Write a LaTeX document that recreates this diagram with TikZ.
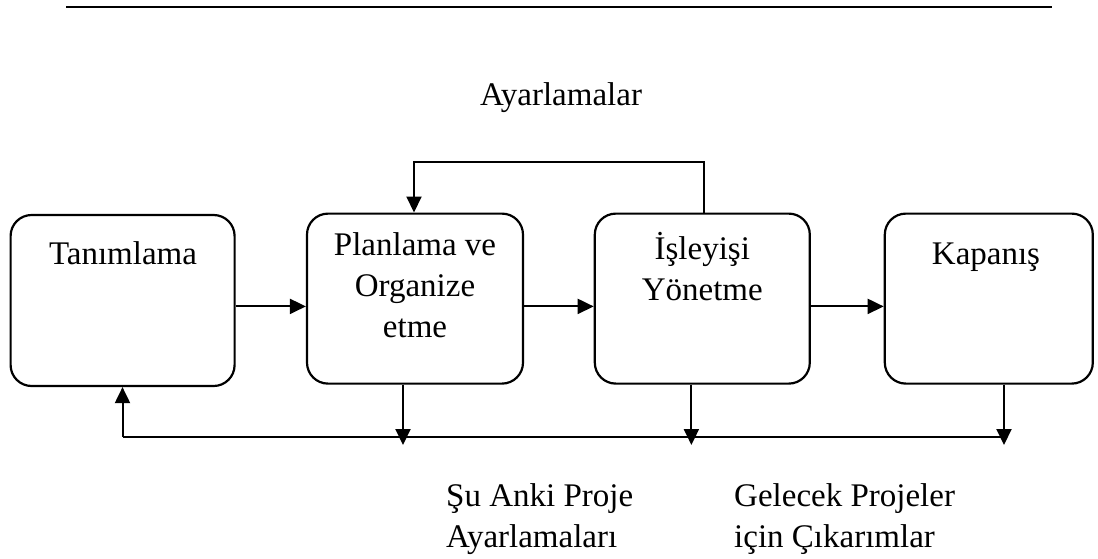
\documentclass[tikz,border=0pt]{standalone}
\usepackage{fontspec}
\setmainfont{Liberation Serif}
\usetikzlibrary{arrows.meta}
\begin{document}
\begin{tikzpicture}[x=1pt,y=-1pt,
  box/.style={draw,line width=2.2pt,rounded corners=21pt,inner sep=0pt},
  lbl/.style={anchor=base,align=center,font=\fontsize{33}{41}\selectfont,inner sep=0pt},
  arr/.style={line width=2pt,-{Triangle[length=16pt,width=15pt]}},
  ln/.style={line width=2pt}]
\useasboundingbox (0,0) rectangle (1098,558);
\draw[line width=2.8pt] (66,7) -- (1052,7);
\node[lbl] (adj) at (561,105) {Ayarlamalar};
\node[box,minimum width=224pt,minimum height=171pt] (b1) at (122.6,300.5) {};
\node[box,minimum width=216pt,minimum height=170pt] (b2) at (415,298.6) {};
\node[box,minimum width=215pt,minimum height=170pt] (b3) at (702.3,298.6) {};
\node[box,minimum width=208pt,minimum height=170pt] (b4) at (988.8,298.6) {};
\node[lbl] (t1) at (123,264) {Tanımlama};
\node[lbl,anchor=north] (t2) at (415,232) {Planlama ve\\Organize\\etme};
\node[lbl,anchor=north] (t3) at (702.3,232) {İşleyişi\\Yönetme};
\node[lbl] (t4) at (986,264) {Kapanış};
\draw[arr] (b1.east |- 0,306.4) -- (b2.west |- 0,306.4);
\draw[arr] (b2.east |- 0,306.4) -- (b3.west |- 0,306.4);
\draw[arr] (b3.east |- 0,306.4) -- (b4.west |- 0,306.4);
\coordinate (f1) at (703.6,162);
\coordinate (f2) at (414,162);
\draw[arr] (b3.north -| f1) -- (f1) -- (f2) -- (b2.north -| f2);
\coordinate (l1) at (122.5,437);
\coordinate (l2) at (1004,437);
\draw[ln] (l1) -- (l2);
\draw[arr] (l1) -- (b1.south -| l1);
\coordinate (d2) at (403,445);
\coordinate (d3) at (691.4,445);
\coordinate (d4) at (1004,445);
\draw[arr] (b2.south -| d2) -- (d2);
\draw[arr] (b3.south -| d3) -- (d3);
\draw[arr] (b4.south -| d4) -- (d4);
\node[lbl,anchor=base west,align=left] (n1) at (446,547) {Şu Anki Proje\\Ayarlamaları};
\node[lbl,anchor=base west,align=left] (n2) at (734,547) {Gelecek Projeler\\için Çıkarımlar};
\end{tikzpicture}
\end{document}
